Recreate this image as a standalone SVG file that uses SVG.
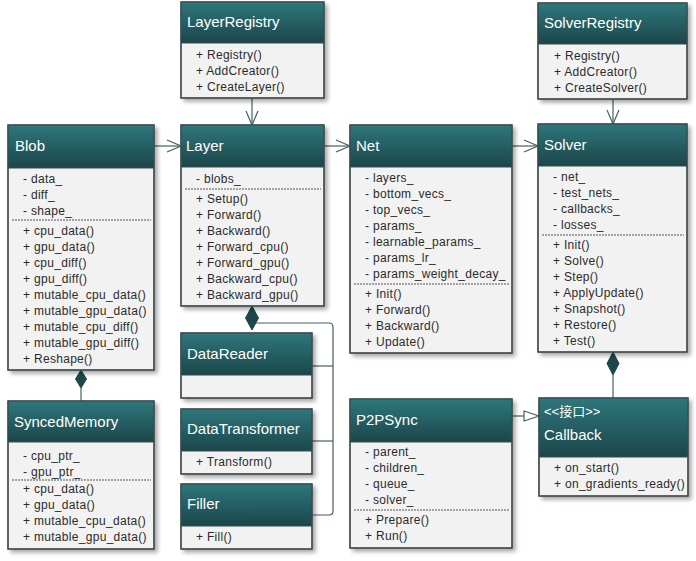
<svg xmlns="http://www.w3.org/2000/svg" width="696" height="561" viewBox="0 0 696 561">
<defs>
<linearGradient id="hdr" x1="0" y1="0" x2="0" y2="1">
<stop offset="0" stop-color="#2e777c"/>
<stop offset="1" stop-color="#1b464a"/>
</linearGradient>
<filter id="sh" x="-10%" y="-10%" width="130%" height="130%">
<feDropShadow dx="3" dy="3" stdDeviation="2" flood-color="#000" flood-opacity="0.35"/>
</filter>
<marker id="open" markerWidth="16" markerHeight="14" refX="15" refY="7" orient="auto" markerUnits="userSpaceOnUse">
<path d="M1,1 L15,7 L1,13" fill="none" stroke="#4a5f60" stroke-width="1.2"/>
</marker>
</defs>
<style>
.body{fill:#f2f2f2;stroke:#3d4a4b;stroke-width:1.2;filter:url(#sh)}
.head{fill:url(#hdr)}
.frame{fill:none;stroke:#3d4a4b;stroke-width:1.2}
.sep{stroke:#3d4a4b;stroke-width:1}
.dash{stroke:#555;stroke-width:1;stroke-dasharray:2,1}
.t{font-family:"Liberation Sans",Arial,sans-serif;font-size:15px;fill:#ffffff}
.st{font-family:"Liberation Sans","Noto Sans CJK SC",sans-serif;font-size:13px;fill:#ffffff}
.m{font-family:"Liberation Sans",Arial,sans-serif;font-size:12px;fill:#2b2b2b;letter-spacing:0.3px}
.c{stroke:#4a5f60;stroke-width:1.2;fill:none}
.dia{fill:#1d474b;stroke:#1d474b}
</style>

<g id="connectors">
<line class="c" x1="154" y1="146" x2="181" y2="146" marker-end="url(#open)"/>
<line class="c" x1="324" y1="146" x2="350" y2="146" marker-end="url(#open)"/>
<line class="c" x1="512" y1="146" x2="538" y2="146" marker-end="url(#open)"/>
<line class="c" x1="252" y1="98" x2="252" y2="125" marker-end="url(#open)"/>
<line class="c" x1="613" y1="99" x2="613" y2="124" marker-end="url(#open)"/>
<line class="c" x1="81" y1="388" x2="81" y2="401"/>
<path class="dia" d="M81,370 L86.5,379 L81,388 L75.5,379 Z"/>
<path class="c" d="M252,323 L329,323 Q333,323 333,327 L333,511 Q333,515 329,515 L312,515"/>
<line class="c" x1="312" y1="366" x2="333" y2="366"/>
<line class="c" x1="312" y1="441" x2="333" y2="441"/>
<path class="dia" d="M252,306 L258.5,318 L252,330 L245.5,318 Z"/>
<line class="c" x1="613" y1="375" x2="613" y2="398"/>
<path class="dia" d="M613,352 L619,363.5 L613,375 L607,363.5 Z"/>
<line class="c" x1="512" y1="416" x2="524" y2="416"/>
<path d="M524,411 L539,416 L524,421 Z" fill="#fff" stroke="#4a5f60" stroke-width="1.2"/>
</g>

<g id="LayerRegistry">
<rect class="body" x="181" y="2" width="143" height="96"/>
<rect class="head" x="181" y="2" width="143" height="41"/>
<line class="sep" x1="181" y1="43" x2="324" y2="43"/>
<rect class="frame" x="181" y="2" width="143" height="96"/>
<text class="t" x="187" y="27">LayerRegistry</text>
<text class="m" x="196" y="59">+ Registry()</text>
<text class="m" x="196" y="75">+ AddCreator()</text>
<text class="m" x="196" y="91">+ CreateLayer()</text>
</g>

<g id="SolverRegistry">
<rect class="body" x="538" y="3" width="149" height="96"/>
<rect class="head" x="538" y="3" width="149" height="41"/>
<line class="sep" x1="538" y1="44" x2="687" y2="44"/>
<rect class="frame" x="538" y="3" width="149" height="96"/>
<text class="t" x="544" y="28">SolverRegistry</text>
<text class="m" x="554" y="60">+ Registry()</text>
<text class="m" x="554" y="76">+ AddCreator()</text>
<text class="m" x="554" y="92">+ CreateSolver()</text>
</g>

<g id="Blob">
<rect class="body" x="8" y="125" width="146" height="245"/>
<rect class="head" x="8" y="125" width="146" height="43"/>
<line class="sep" x1="8" y1="168" x2="154" y2="168"/>
<rect class="frame" x="8" y="125" width="146" height="245"/>
<text class="t" x="15" y="151">Blob</text>
<text class="m" x="23" y="183">- data_</text>
<text class="m" x="23" y="199">- diff_</text>
<text class="m" x="23" y="215">- shape_</text>
<line class="dash" x1="12" y1="220" x2="151" y2="220"/>
<text class="m" x="23" y="235">+ cpu_data()</text>
<text class="m" x="23" y="251">+ gpu_data()</text>
<text class="m" x="23" y="267">+ cpu_diff()</text>
<text class="m" x="23" y="283">+ gpu_diff()</text>
<text class="m" x="23" y="299">+ mutable_cpu_data()</text>
<text class="m" x="23" y="315">+ mutable_gpu_data()</text>
<text class="m" x="23" y="331">+ mutable_cpu_diff()</text>
<text class="m" x="23" y="347">+ mutable_gpu_diff()</text>
<text class="m" x="23" y="363">+ Reshape()</text>
</g>

<g id="Layer">
<rect class="body" x="181" y="125" width="143" height="181"/>
<rect class="head" x="181" y="125" width="143" height="42"/>
<line class="sep" x1="181" y1="167" x2="324" y2="167"/>
<rect class="frame" x="181" y="125" width="143" height="181"/>
<text class="t" x="186" y="151">Layer</text>
<text class="m" x="196" y="183">- blobs_</text>
<line class="dash" x1="185" y1="189" x2="321" y2="189"/>
<text class="m" x="196" y="203">+ Setup()</text>
<text class="m" x="196" y="219">+ Forward()</text>
<text class="m" x="196" y="235">+ Backward()</text>
<text class="m" x="196" y="251">+ Forward_cpu()</text>
<text class="m" x="196" y="267">+ Forward_gpu()</text>
<text class="m" x="196" y="283">+ Backward_cpu()</text>
<text class="m" x="196" y="299">+ Backward_gpu()</text>
</g>

<g id="Net">
<rect class="body" x="350" y="125" width="162" height="228"/>
<rect class="head" x="350" y="125" width="162" height="42"/>
<line class="sep" x1="350" y1="167" x2="512" y2="167"/>
<rect class="frame" x="350" y="125" width="162" height="228"/>
<text class="t" x="356" y="151">Net</text>
<text class="m" x="365" y="182">- layers_</text>
<text class="m" x="365" y="198">- bottom_vecs_</text>
<text class="m" x="365" y="214">- top_vecs_</text>
<text class="m" x="365" y="230">- params_</text>
<text class="m" x="365" y="246">- learnable_params_</text>
<text class="m" x="365" y="262">- params_lr_</text>
<text class="m" x="365" y="278">- params_weight_decay_</text>
<line class="dash" x1="354" y1="284" x2="509" y2="284"/>
<text class="m" x="365" y="298">+ Init()</text>
<text class="m" x="365" y="314">+ Forward()</text>
<text class="m" x="365" y="330">+ Backward()</text>
<text class="m" x="365" y="346">+ Update()</text>
</g>

<g id="Solver">
<rect class="body" x="538" y="124" width="149" height="228"/>
<rect class="head" x="538" y="124" width="149" height="42"/>
<line class="sep" x1="538" y1="166" x2="687" y2="166"/>
<rect class="frame" x="538" y="124" width="149" height="228"/>
<text class="t" x="544" y="150">Solver</text>
<text class="m" x="553" y="181">- net_</text>
<text class="m" x="553" y="197">- test_nets_</text>
<text class="m" x="553" y="213">- callbacks_</text>
<text class="m" x="553" y="229">- losses_</text>
<line class="dash" x1="542" y1="235" x2="684" y2="235"/>
<text class="m" x="553" y="249">+ Init()</text>
<text class="m" x="553" y="265">+ Solve()</text>
<text class="m" x="553" y="281">+ Step()</text>
<text class="m" x="553" y="297">+ ApplyUpdate()</text>
<text class="m" x="553" y="313">+ Snapshot()</text>
<text class="m" x="553" y="329">+ Restore()</text>
<text class="m" x="553" y="345">+ Test()</text>
</g>

<g id="SyncedMemory">
<rect class="body" x="8" y="401" width="146" height="148"/>
<rect class="head" x="8" y="401" width="146" height="41"/>
<line class="sep" x1="8" y1="442" x2="154" y2="442"/>
<rect class="frame" x="8" y="401" width="146" height="148"/>
<text class="t" x="14" y="427">SyncedMemory</text>
<text class="m" x="23" y="460">- cpu_ptr_</text>
<text class="m" x="23" y="476">- gpu_ptr_</text>
<line class="dash" x1="12" y1="480" x2="151" y2="480"/>
<text class="m" x="23" y="493">+ cpu_data()</text>
<text class="m" x="23" y="509">+ gpu_data()</text>
<text class="m" x="23" y="525">+ mutable_cpu_data()</text>
<text class="m" x="23" y="541">+ mutable_gpu_data()</text>
</g>

<g id="DataReader">
<rect class="body" x="181" y="333" width="131" height="65"/>
<rect class="head" x="181" y="333" width="131" height="42"/>
<line class="sep" x1="181" y1="375" x2="312" y2="375"/>
<rect class="frame" x="181" y="333" width="131" height="65"/>
<text class="t" x="187" y="359">DataReader</text>
</g>

<g id="DataTransformer">
<rect class="body" x="181" y="409" width="131" height="65"/>
<rect class="head" x="181" y="409" width="131" height="42"/>
<line class="sep" x1="181" y1="451" x2="312" y2="451"/>
<rect class="frame" x="181" y="409" width="131" height="65"/>
<text class="t" x="187" y="434">DataTransformer</text>
<text class="m" x="196" y="466">+ Transform()</text>
</g>

<g id="Filler">
<rect class="body" x="181" y="484" width="131" height="65"/>
<rect class="head" x="181" y="484" width="131" height="42"/>
<line class="sep" x1="181" y1="526" x2="312" y2="526"/>
<rect class="frame" x="181" y="484" width="131" height="65"/>
<text class="t" x="187" y="509">Filler</text>
<text class="m" x="196" y="541">+ Fill()</text>
</g>

<g id="P2PSync">
<rect class="body" x="350" y="399" width="162" height="149"/>
<rect class="head" x="350" y="399" width="162" height="43"/>
<line class="sep" x1="350" y1="442" x2="512" y2="442"/>
<rect class="frame" x="350" y="399" width="162" height="149"/>
<text class="t" x="356" y="425">P2PSync</text>
<text class="m" x="365" y="456">- parent_</text>
<text class="m" x="365" y="472">- children_</text>
<text class="m" x="365" y="488">- queue_</text>
<text class="m" x="365" y="504">- solver_</text>
<line class="dash" x1="354" y1="510" x2="509" y2="510"/>
<text class="m" x="365" y="524">+ Prepare()</text>
<text class="m" x="365" y="540">+ Run()</text>
</g>

<g id="Callback">
<rect class="body" x="539" y="398" width="149" height="98"/>
<rect class="head" x="539" y="398" width="149" height="59"/>
<line class="sep" x1="539" y1="457" x2="688" y2="457"/>
<rect class="frame" x="539" y="398" width="149" height="98"/>
<text class="st" x="544" y="416">&lt;&lt;接口&gt;&gt;</text>
<text class="t" x="544" y="440">Callback</text>
<text class="m" x="554" y="472">+ on_start()</text>
<text class="m" x="554" y="488">+ on_gradients_ready()</text>
</g>
</svg>
